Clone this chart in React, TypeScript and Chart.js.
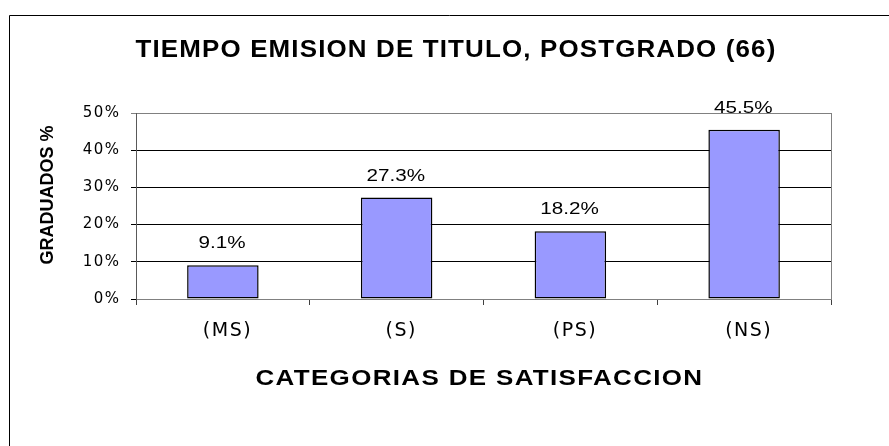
import React, { useEffect, useRef } from 'react';
import { Chart, registerables } from 'chart.js';

Chart.register(...registerables);

const chartTitle = 'TIEMPO EMISION DE TITULO, POSTGRADO (66)';
const xAxisTitle = 'CATEGORIAS DE SATISFACCION';
const yAxisTitle = 'GRADUADOS %';
const categories = ['(MS)', '(S)', '(PS)', '(NS)'];
const graduadosPct = [9.1, 27.3, 18.2, 45.5];
const yMin = 0;
const yMax = 50;
const yStep = 10;

const SANS = "'Liberation Sans', Arial, sans-serif";
const TICK_FONT = "'DejaVu Sans', 'Liberation Sans', sans-serif";
const W = 889;
const H = 446;

function scaledText(
  ctx: CanvasRenderingContext2D,
  text: string,
  x: number,
  y: number,
  sx: number,
  align: CanvasTextAlign,
  spacing: number,
) {
  ctx.save();
  ctx.translate(x, y);
  ctx.scale(sx, 1);
  (ctx as any).letterSpacing = `${spacing}px`;
  ctx.textAlign = align;
  ctx.fillText(text, 0, 0);
  ctx.restore();
}

export default function App() {
  const ref = useRef<HTMLCanvasElement>(null);

  useEffect(() => {
    const canvas = ref.current;
    if (!canvas) return;

    const decor = {
      id: 'decor',
      beforeDraw(chart: any) {
        chart.ctx.letterSpacing = '1.5px';
      },
      beforeDatasetsDraw(chart: any) {
        const { ctx, chartArea: a } = chart;
        ctx.save();
        ctx.strokeStyle = '#808080';
        ctx.lineWidth = 1;
        const rx = Math.round(a.right) + 0.5;
        ctx.beginPath();
        ctx.moveTo(rx, Math.round(a.top));
        ctx.lineTo(rx, Math.round(a.bottom) + 1);
        ctx.stroke();
        ctx.restore();
      },
      afterDraw(chart: any) {
        const ctx = chart.ctx as CanvasRenderingContext2D;
        ctx.save();
        (ctx as any).letterSpacing = '0px';
        // outer frame
        ctx.strokeStyle = '#000000';
        ctx.lineWidth = 1;
        ctx.beginPath();
        ctx.moveTo(9.5, chart.height);
        ctx.lineTo(9.5, 15.5);
        ctx.lineTo(chart.width, 15.5);
        ctx.stroke();

        ctx.fillStyle = '#000000';
        ctx.textBaseline = 'alphabetic';

        // chart title
        ctx.font = `bold 24px ${SANS}`;
        scaledText(ctx, chartTitle, 135.5, 56.5, 1.08, 'left', 1.07);

        // x axis title
        ctx.font = `bold 22px ${SANS}`;
        scaledText(ctx, xAxisTitle, 255.5, 384.5, 1.18, 'left', 1.14);

        // y axis title
        ctx.font = `bold 18px ${SANS}`;
        ctx.save();
        (ctx as any).letterSpacing = '0px';
        ctx.translate(53.3, 195);
        ctx.rotate(-Math.PI / 2);
        ctx.textAlign = 'center';
        ctx.fillText(yAxisTitle, 0, 0);
        ctx.restore();

        // value labels
        ctx.font = `16px ${SANS}`;
        const meta = chart.getDatasetMeta(0);
        meta.data.forEach((bar: any, i: number) => {
          scaledText(ctx, `${graduadosPct[i].toFixed(1)}%`, bar.x - 0.8, bar.y - 16.8, 1.29, 'center', 0);
        });
        ctx.restore();
      },
    };

    const chart = new Chart(canvas, {
      type: 'bar',
      data: {
        labels: categories,
        datasets: [
          {
            label: yAxisTitle,
            data: graduadosPct,
            backgroundColor: '#9999FF',
            borderColor: '#000000',
            borderWidth: 1.5,
            borderSkipped: false,
            barPercentage: 0.4115,
            categoryPercentage: 1,
          },
        ],
      },
      options: {
        responsive: false,
        animation: false,
        devicePixelRatio: 1,
        layout: { padding: { top: 113, right: 58, bottom: 0, left: 0 } },
        plugins: {
          legend: { display: false },
          tooltip: { enabled: false },
          title: { display: false },
        },
        scales: {
          x: {
            offset: true,
            grid: {
              display: true,
              drawOnChartArea: false,
              drawTicks: true,
              tickLength: 6,
              color: '#404040',
            },
            border: { display: true, color: '#808080' },
            ticks: {
              color: '#000000',
              font: { family: TICK_FONT, size: 19 },
              padding: 15,
              labelOffset: 4.6,
              maxRotation: 0,
              autoSkip: false,
            },
            afterFit(scale: any) {
              scale.height = 147;
            },
          },
          y: {
            min: yMin,
            max: yMax,
            grid: {
              color: (c: any) => (c.tick && c.tick.value === yMax ? '#808080' : '#000000'),
              tickLength: 5,
              drawTicks: true,
            },
            border: { display: true, color: '#595959' },
            ticks: {
              stepSize: yStep,
              color: '#000000',
              font: { family: TICK_FONT, size: 15 },
              padding: 10.5,
              callback: (v: any) => `${v}%`,
            },
            afterFit(scale: any) {
              scale.width = 136;
            },
          },
        },
      },
      plugins: [decor],
    });

    return () => {
      chart.destroy();
    };
  }, []);

  return (
    <div style={{ position: 'absolute', left: 0, top: 0, width: W, height: H, background: '#ffffff' }}>
      <canvas ref={ref} width={W} height={H} style={{ display: 'block', width: W, height: H }} />
    </div>
  );
}
